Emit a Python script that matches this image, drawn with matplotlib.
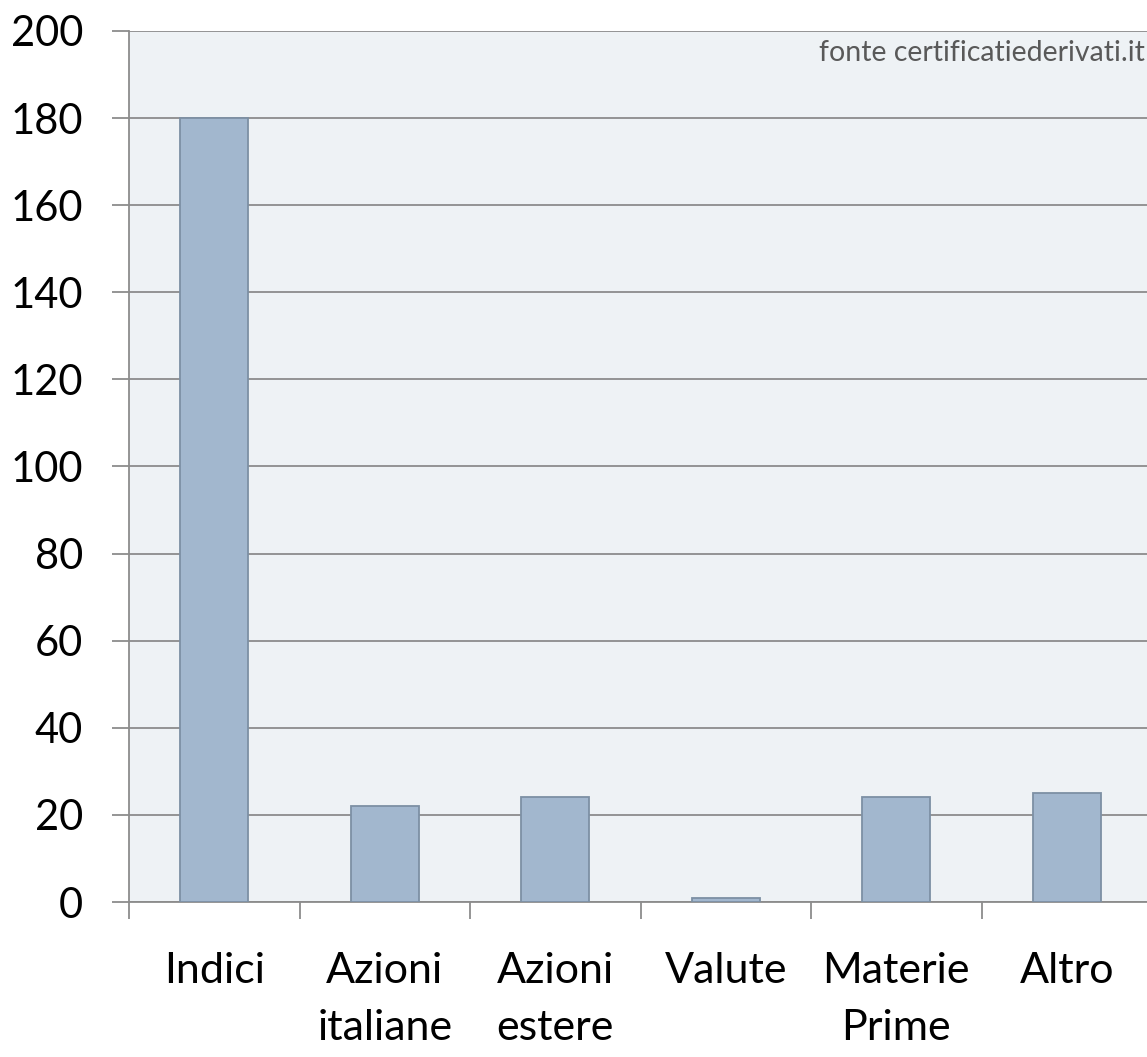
import matplotlib.pyplot as plt
import numpy as np

categorie = ['Indici', 'Azioni\nitaliane', 'Azioni\nestere', 'Valute', 'Materie\nPrime', 'Altro']
valori = [180, 22, 24, 1, 24, 25]
yticks = [0, 20, 40, 60, 80, 100, 120, 140, 160, 180, 200]

plt.rcParams['font.family'] = ['Lato', 'DejaVu Sans']

fig = plt.figure(figsize=(11.47, 10.57), dpi=100)
ax = fig.add_axes([129 / 1147, 155 / 1057, 1023 / 1147, 871 / 1057])
ax.set_facecolor('#eef2f5')

x = np.arange(len(categorie))
ax.bar(x, valori, width=0.4, color='#a2b7ce', edgecolor='#7d90a4', linewidth=1.3, zorder=3)

ax.set_ylim(0, 200)
ax.set_xlim(-0.5, len(categorie) - 0.5)
ax.set_yticks(yticks)
ax.yaxis.grid(True, color='#8c8c8c', linewidth=1.3, zorder=1)

ax.set_xticks(np.arange(len(categorie) + 1) - 0.5)
ax.set_xticklabels([])
ax.set_xticks(x, minor=True)
ax.set_xticklabels(categorie, minor=True, fontsize=31, linespacing=1.6)
ax.tick_params(axis='x', which='minor', length=0, pad=36)
ax.tick_params(axis='x', which='major', length=12, width=1.3, color='#8c8c8c', direction='out')
ax.tick_params(axis='y', length=12, width=1.3, color='#8c8c8c', labelsize=30, pad=21)

for s in ['top', 'right']:
    ax.spines[s].set_visible(False)
for s in ['left', 'bottom']:
    ax.spines[s].set_color('#8c8c8c')
    ax.spines[s].set_linewidth(1.3)

fig.text(1145 / 1147, 1 - 53 / 1057, 'fonte certificatiederivati.it', ha='right', va='center',
         fontsize=20.5, color='#595959')

plt.savefig('out.png', dpi=100)
